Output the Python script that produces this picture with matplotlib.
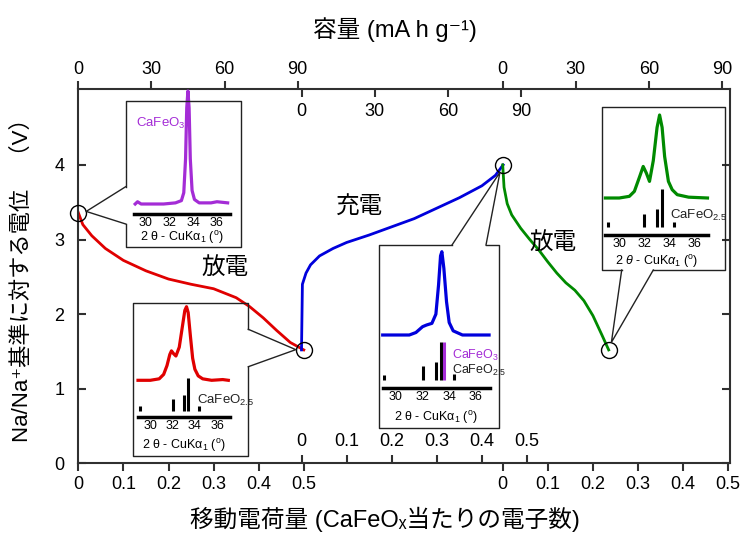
import matplotlib
matplotlib.use("Agg")
import matplotlib.pyplot as plt
from matplotlib.lines import Line2D
from matplotlib import font_manager
import numpy as np

# ------------------------------------------------------------------ data
dis1_electrons = [0.0, 0.01, 0.03, 0.06, 0.10, 0.15, 0.20, 0.25, 0.30, 0.35, 0.38, 0.41, 0.44, 0.47, 0.50]
dis1_voltage = [3.36, 3.20, 3.05, 2.88, 2.72, 2.58, 2.47, 2.40, 2.34, 2.22, 2.10, 1.95, 1.78, 1.62, 1.52]

charge_electrons = [0.0, 0.002, 0.01, 0.02, 0.04, 0.07, 0.10, 0.15, 0.20, 0.25, 0.30, 0.35, 0.40, 0.43, 0.447]
charge_voltage = [1.52, 2.40, 2.55, 2.66, 2.78, 2.88, 2.96, 3.06, 3.17, 3.28, 3.42, 3.56, 3.72, 3.86, 4.00]

dis2_electrons = [0.0, 0.003, 0.01, 0.02, 0.04, 0.06, 0.08, 0.10, 0.12, 0.14, 0.16, 0.18, 0.20, 0.22, 0.235]
dis2_voltage = [4.00, 3.70, 3.48, 3.33, 3.15, 3.00, 2.86, 2.70, 2.55, 2.42, 2.32, 2.18, 1.98, 1.72, 1.52]

electron_ticks = [0, 0.1, 0.2, 0.3, 0.4, 0.5]
electron_labels = ["0", "0.1", "0.2", "0.3", "0.4", "0.5"]
capacity_ticks = [0, 30, 60, 90]
voltage_ticks = [0, 1, 2, 3, 4]

# XRD patterns (2theta, normalised intensity)
xrd1_tt = [29.1, 29.3, 29.6, 30.5, 31.5, 32.5, 33.0, 33.2, 33.35, 33.45, 33.55, 33.65, 33.75, 33.9, 34.1, 34.5, 35.5, 36.0, 36.9]
xrd1_i = [0.0, 0.02, 0.0, 0.0, 0.0, 0.01, 0.03, 0.10, 0.40, 0.85, 1.0, 0.85, 0.40, 0.12, 0.04, 0.01, 0.01, 0.02, 0.01]

xrd2_tt = [28.9, 30.0, 30.8, 31.2, 31.5, 31.75, 31.9, 32.1, 32.3, 32.6, 32.9, 33.1, 33.25, 33.4, 33.6, 33.8, 34.0, 34.3, 34.7, 35.5, 36.5, 37.0]
xrd2_i = [0.0, 0.0, 0.02, 0.08, 0.20, 0.35, 0.40, 0.36, 0.33, 0.45, 0.75, 0.95, 1.0, 0.92, 0.60, 0.30, 0.15, 0.06, 0.02, 0.0, 0.01, 0.0]

xrd3_tt = [29.0, 31.0, 31.5, 32.0, 32.3, 32.7, 33.0, 33.2, 33.35, 33.45, 33.6, 33.8, 34.0, 34.3, 35.0, 37.0]
xrd3_i = [0.0, 0.0, 0.03, 0.10, 0.12, 0.14, 0.25, 0.60, 0.95, 1.0, 0.80, 0.40, 0.15, 0.05, 0.0, 0.0]

xrd4_tt = [28.9, 30.0, 30.8, 31.2, 31.6, 31.9, 32.15, 32.4, 32.7, 33.0, 33.2, 33.4, 33.6, 33.9, 34.2, 34.6, 35.5, 37.0]
xrd4_i = [0.0, 0.0, 0.02, 0.08, 0.25, 0.38, 0.30, 0.20, 0.45, 0.85, 1.0, 0.85, 0.50, 0.20, 0.10, 0.04, 0.01, 0.0]

ref25_tt = [29.1, 32.0, 33.0, 33.4, 34.35]
ref25_i = [0.13, 0.36, 0.48, 1.0, 0.15]
ref3_tt = [33.6]
ref3_i = [1.0]
xrd_ticks = [30, 32, 34, 36]

# ------------------------------------------------------------------ style
names = {f.name for f in font_manager.fontManager.ttflist}
NARROW = "Liberation Sans Narrow" if "Liberation Sans Narrow" in names else "Liberation Sans"
CJK = "Noto Sans CJK JP"
plt.rcParams["font.family"] = ["Liberation Sans", CJK, "DejaVu Sans"]
plt.rcParams["mathtext.fontset"] = "custom"
plt.rcParams["mathtext.rm"] = "Liberation Sans"
plt.rcParams["mathtext.it"] = "Liberation Sans:italic"
plt.rcParams["mathtext.bf"] = "Liberation Sans:bold"

RED, BLUE, GREEN, PURPLE = "#e00000", "#0000dc", "#008a00", "#a42cd6"
SPINE = "#303030"

W, H = 741, 535
fig = plt.figure(figsize=(W / 100, H / 100), dpi=100)


def fx(x):
    return x / W


def fy(y):
    return 1 - y / H


AX_L, AX_R, AX_T, AX_B = 78.3, 730.0, 89.0, 463.3
PX_PER_E = 451.0
PX_PER_V = 74.6
ax = fig.add_axes([fx(AX_L), fy(AX_B), (AX_R - AX_L) / W, (AX_B - AX_T) / H])
ax.set_xlim(0, (AX_R - AX_L) / PX_PER_E)
ax.set_ylim(0, (AX_B - AX_T) / PX_PER_V)
OFF_D1 = 0.0
OFF_CH = (301.5 - AX_L) / PX_PER_E
OFF_D2 = (502.7 - AX_L) / PX_PER_E
CAP_PER_E = 185.0
TS = 13

ax.plot(np.array(dis1_electrons) + OFF_D1, dis1_voltage, color=RED, lw=2)
ax.plot(np.array(charge_electrons) + OFF_CH, charge_voltage, color=BLUE, lw=2)
ax.plot(np.array(dis2_electrons) + OFF_D2, dis2_voltage, color=GREEN, lw=2)

circles = [(OFF_D1 + dis1_electrons[0], dis1_voltage[0]),
           (OFF_D1 + dis1_electrons[-1], dis1_voltage[-1]),
           (OFF_CH + charge_electrons[-1], charge_voltage[-1]),
           (OFF_D2 + dis2_electrons[-1], dis2_voltage[-1])]
for cx, cy in circles:
    ax.plot([cx], [cy], marker="o", ms=11.5, mfc="none", mec="black", mew=1.0, clip_on=False, zorder=5)

for s in ax.spines.values():
    s.set_linewidth(1.5)
    s.set_color(SPINE)

# bottom ticks (discharge segments)
bt = [OFF_D1 + t for t in electron_ticks] + [OFF_D2 + t for t in electron_ticks]
ax.set_xticks(bt)
ax.set_xticklabels(electron_labels * 2, family=NARROW)
ax.tick_params(axis="x", direction="out", length=6, width=1.5, labelsize=TS, pad=3,
               bottom=True, top=False, color=SPINE)
ax.set_yticks(voltage_ticks)
ax.set_yticklabels([str(v) for v in voltage_ticks], family=NARROW)
ax.tick_params(axis="y", direction="in", length=6, width=1.5, labelsize=TS, pad=10,
               left=True, right=True, color=SPINE)

# bottom inner (charge)
sb = ax.secondary_xaxis("bottom")
sb.set_xticks([OFF_CH + t for t in electron_ticks])
sb.set_xticklabels(electron_labels, family=NARROW)
sb.tick_params(direction="in", length=6, width=1.5, labelsize=TS, pad=-22, color=SPINE)
sb.spines["bottom"].set_visible(False)

# top outer (discharge capacity)
st = ax.secondary_xaxis("top")
st.set_xticks([OFF_D1 + c / CAP_PER_E for c in capacity_ticks] + [OFF_D2 + c / CAP_PER_E for c in capacity_ticks])
st.set_xticklabels([str(c) for c in capacity_ticks] * 2, family=NARROW)
st.tick_params(direction="out", length=6, width=1.5, labelsize=TS, pad=2, color=SPINE)
st.spines["top"].set_visible(False)

# top inner (charge capacity)
st2 = ax.secondary_xaxis("top")
st2.set_xticks([OFF_CH + c / CAP_PER_E for c in capacity_ticks])
st2.set_xticklabels([str(c) for c in capacity_ticks], family=NARROW)
st2.tick_params(direction="in", length=6, width=1.5, labelsize=TS, pad=-22, color=SPINE)
st2.spines["top"].set_visible(False)

# axis titles (unicode super/subscripts so the CJK fallback list works)
TITLE_FAM = [NARROW, CJK, "DejaVu Sans"]
fig.text(fx(395), fy(30), "容量 (mA h g\u207b\u00b9)", ha="center", va="center", fontsize=17,
         family=TITLE_FAM)
fig.text(fx(385), fy(519), "移動電荷量 (CaFeO\u2093当たりの電子数)", ha="center", va="center",
         fontsize=17, family=TITLE_FAM)
fig.text(fx(22), fy(275), "Na/Na\u207a基準に対する電位　（V）", rotation=90, ha="center", va="center",
         fontsize=16, family=["Liberation Sans", CJK, "DejaVu Sans"])

# process labels
fig.text(fx(225), fy(268), "放電", ha="center", va="center", fontsize=17, family=[CJK])
fig.text(fx(360), fy(207), "充電", ha="center", va="center", fontsize=17, family=[CJK])
fig.text(fx(553), fy(243), "放電", ha="center", va="center", fontsize=17, family=[CJK])

fig.canvas.draw()


def data_px(pt):
    d = ax.transData.transform(pt)
    return d[0], H - d[1]


def callout(box, side, gap, circle_pt, r=8.0):
    L, T, R, B = box
    if side == "left":
        g1, g2 = (L, gap[0]), (L, gap[1])
        path = [g1, (L, T), (R, T), (R, B), (L, B), g2]
    elif side == "right":
        g1, g2 = (R, gap[0]), (R, gap[1])
        path = [g1, (R, T), (L, T), (L, B), (R, B), g2]
    elif side == "top":
        g1, g2 = (gap[0], T), (gap[1], T)
        path = [g1, (L, T), (L, B), (R, B), (R, T), g2]
    else:
        g1, g2 = (gap[0], B), (gap[1], B)
        path = [g1, (L, B), (L, T), (R, T), (R, B), g2]
    cx, cy = data_px(circle_pt)
    mx, my = (g1[0] + g2[0]) / 2, (g1[1] + g2[1]) / 2
    d = np.hypot(mx - cx, my - cy)
    px, py = cx + r * (mx - cx) / d, cy + r * (my - cy) / d
    xs = [p[0] for p in path]
    ys = [p[1] for p in path]
    fig.add_artist(Line2D([fx(x) for x in xs], [fy(y) for y in ys], color="#222222", lw=1.0))
    fig.add_artist(Line2D([fx(g1[0]), fx(px), fx(g2[0])], [fy(g1[1]), fy(py), fy(g2[1])],
                          color="#222222", lw=1.0))


def xrd_inset(axpx, ttlim, base, amp, tt, inten, color, refs, bar0, barh, xl_y, italic=False):
    x0, x1, ay, ty = axpx
    a = fig.add_axes([fx(x0), fy(ay), (x1 - x0) / W, (ay - ty) / H])
    a.patch.set_alpha(0)
    a.set_xlim(*ttlim)
    a.set_ylim(-base / amp, (ay - ty - base) / amp)
    a.plot(tt, inten, color=color, lw=2.3, clip_on=False)
    for rtt, ri, rc in refs:
        ri = np.array(ri)
        a.vlines(rtt, (bar0 - base) / amp, (bar0 + ri * barh - base) / amp, color=rc, lw=2.2)
    for k in ("left", "right", "top"):
        a.spines[k].set_visible(False)
    a.spines["bottom"].set_linewidth(2.5)
    a.spines["bottom"].set_color("black")
    a.set_yticks([])
    a.set_xticks(xrd_ticks)
    a.set_xticklabels([str(t) for t in xrd_ticks])
    a.tick_params(axis="x", length=0, labelsize=9, pad=2)
    if italic:
        lab = "2 $\\mathit{θ}$ - CuK$\\mathit{α}_{1}$ ($^{\\rm o}$)"
    else:
        lab = "2 θ - CuKα$_{1}$ ($^{\\rm o}$)"
    fig.text(fx((x0 + x1) / 2), fy(xl_y), lab, ha="center", va="center", fontsize=9)
    return a


# inset 1: CaFeO3 (start of discharge)
callout((125.7, 100.7, 241.0, 247.0), "left", (186.7, 224.0), circles[0])
xrd_inset((134, 230, 214, 101), (29.0, 37.1), 10, 113, xrd1_tt, xrd1_i, PURPLE, [], 0, 0, 238)
fig.text(fx(136), fy(123), "CaFeO$_{3}$", color=PURPLE, fontsize=9.5, ha="left", va="center")

# inset 2: end of first discharge
callout((133.3, 303.3, 248.3, 455.7), "right", (329.3, 366.7), circles[1])
xrd_inset((138, 230, 417.3, 304), (28.9, 37.15), 37, 73.6, xrd2_tt, xrd2_i, RED,
          [(ref25_tt, ref25_i, "black")], 6.6, 32.4, 445)
fig.text(fx(197), fy(400), "CaFeO$_{2.5}$", color="#222222", fontsize=9.5, ha="left", va="center")

# inset 3: end of charge
callout((379.3, 245.0, 499.3, 428.0), "top", (452.0, 486.0), circles[2])
xrd_inset((382.7, 490, 388.3, 246), (29.0, 37.07), 53.3, 83.3, xrd3_tt, xrd3_i, BLUE,
          [(ref25_tt, ref25_i, "black"), (ref3_tt, ref3_i, PURPLE)], 8.3, 38.3, 417)
fig.text(fx(452), fy(355), "CaFeO$_{3}$", color=PURPLE, fontsize=9, ha="left", va="center")
fig.text(fx(452), fy(370), "CaFeO$_{2.5}$", color="#222222", fontsize=9, ha="left", va="center")

# inset 4: second discharge
callout((601.7, 107.3, 725.0, 270.0), "bottom", (621.7, 653.3), circles[3])
xrd_inset((605, 708, 235, 108), (28.87, 37.04), 37, 83, xrd4_tt, xrd4_i, GREEN,
          [(ref25_tt, ref25_i, "black")], 7.7, 38, 262, italic=True)
fig.text(fx(670), fy(215), "CaFeO$_{2.5}$", color="#222222", fontsize=9.5, ha="left", va="center")

fig.savefig("out.png", dpi=100)
